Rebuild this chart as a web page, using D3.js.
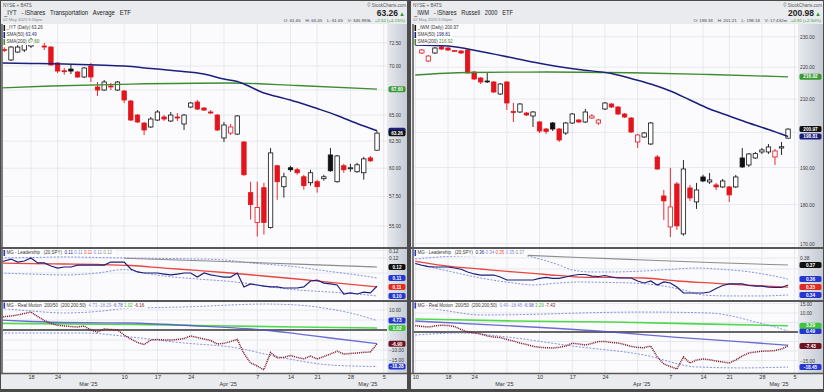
<!DOCTYPE html>
<html lang="en">
<head>
<meta charset="UTF-8">
<title>IYT / IWM daily</title>
<script src="https://cdn.jsdelivr.net/npm/d3@7/dist/d3.min.js"></script>
<style>
  body { margin: 0; background: #4a4a4a; }
  svg { display: block; font-family: "Liberation Sans", Arial, sans-serif; }
</style>
</head>
<body>
<svg id="chart" width="824" height="392"></svg>
<script>
// trading days on the axis (Feb 17 and Apr 18 were holidays)
const dates = ['Feb 10','Feb 11','Feb 12','Feb 13','Feb 14','Feb 18','Feb 19','Feb 20','Feb 21',
  'Feb 24','Feb 25','Feb 26','Feb 27','Feb 28','Mar 3','Mar 4','Mar 5','Mar 6','Mar 7',
  'Mar 10','Mar 11','Mar 12','Mar 13','Mar 14','Mar 17','Mar 18','Mar 19','Mar 20','Mar 21',
  'Mar 24','Mar 25','Mar 26','Mar 27','Mar 28','Mar 31','Apr 1','Apr 2','Apr 3','Apr 4',
  'Apr 7','Apr 8','Apr 9','Apr 10','Apr 11','Apr 14','Apr 15','Apr 16','Apr 17',
  'Apr 21','Apr 22','Apr 23','Apr 24','Apr 25','Apr 28','Apr 29','Apr 30','May 1','May 2','May 5']
const candleDates = dates.slice(1, 58)   // Feb 11 .. May 2

const weekStarts = ['Feb 10','Feb 18','Feb 24','Mar 3','Mar 10','Mar 17','Mar 24','Mar 31','Apr 7','Apr 14','Apr 21','Apr 28','May 5']
const dayTicks = ['Feb 10','Feb 18','Feb 24','Mar 10','Mar 17','Mar 24','Apr 7','Apr 14','Apr 21','Apr 28','May 5']
const monthTicks = ['Mar 3','Apr 1','May 1']
const monthNames = ["Mar '25","Apr '25","May '25"]

// ---------- IYT ----------
const iytPrevClose = 71.9
const iytOpen = [71.75,70.64,71.49,71.71,72.14,72.80,72.14,72.03,70.32,69.50,69.68,69.37,68.85,70.00,67.82,67.51,67.92,67.51,67.41,66.40,65.01,64.23,63.85,64.52,64.82,64.43,64.82,64.14,65.80,66.30,65.70,65.31,65.01,62.80,63.27,63.17,62.42,57.83,55.28,58.26,54.86,60.22,58.35,60.04,59.86,59.23,58.70,58.79,59.06,61.21,58.79,60.22,59.95,59.68,59.59,60.94,61.65]
const iytHigh = [72.00,72.14,72.25,72.58,73.02,72.90,72.47,72.14,70.42,69.80,70.21,69.47,69.89,70.32,68.33,68.54,68.23,68.43,67.51,66.50,65.11,64.33,64.82,65.50,65.01,65.31,65.21,65.11,66.30,66.50,65.80,65.50,65.11,64.33,64.14,65.01,62.51,58.79,58.79,58.70,61.86,60.31,59.59,60.22,60.04,59.41,59.86,58.97,59.41,61.86,61.21,60.40,60.40,60.49,61.03,61.12,63.45]
const iytLow = [71.50,70.53,71.39,71.49,71.93,72.36,71.71,70.05,69.26,69.10,69.16,68.74,68.74,68.33,66.90,67.41,67.51,67.41,66.20,64.43,64.23,63.08,63.75,64.43,64.43,64.33,64.43,63.56,65.70,65.50,65.41,65.11,63.46,62.42,63.08,63.08,59.32,55.53,54.13,54.29,54.78,57.22,57.40,59.68,59.41,58.09,58.44,57.83,58.88,59.68,58.70,59.59,59.68,59.59,58.97,60.58,61.65]
const iytClose = [71.68,72.03,72.03,72.36,72.80,72.47,72.03,70.11,69.47,69.40,69.47,68.85,69.79,68.85,67.51,68.33,67.82,68.33,66.50,64.52,64.33,63.56,64.62,65.31,64.62,65.01,64.72,65.01,66.20,65.60,65.50,65.21,63.56,64.04,63.85,64.92,59.41,56.79,56.54,55.28,61.40,58.79,59.23,59.86,59.59,58.44,59.59,58.35,59.23,59.77,61.12,59.86,60.04,60.31,60.85,60.67,63.26]
const iytSma50 = [['Feb 10',70.32],['Feb 18',70.27],['Feb 25',70.21],['Mar 4',70.11],['Mar 10',70.00],['Mar 14',69.74],['Mar 20',69.47],['Mar 26',69.16],['Mar 31',68.64],['Apr 2',68.38],['Apr 4',67.82],['Apr 8',67.20],['Apr 10',66.85],['Apr 15',66.30],['Apr 21',65.65],['Apr 24',64.97],['Apr 29',64.19],['May 2',63.49]]
const iytSma200 = [['Feb 10',67.72],['Feb 21',67.92],['Mar 11',68.12],['Apr 1',68.23],['Apr 15',67.97],['May 2',67.60]]
const iytPriceTicks = [72.5,70,67.5,65,62.5,60,57.5,55]

const iytLead = [0.1167,0.1180,0.1193,0.1173,0.1180,0.1200,0.1167,0.1167,0.1147,0.1133,0.1140,0.1140,0.1153,0.1153,0.1153,0.1153,0.1153,0.1173,0.1173,0.1173,0.1127,0.1107,0.1100,0.1100,0.1100,0.1093,0.1087,0.1093,0.1100,0.1100,0.1073,0.1100,0.1087,0.1080,0.1073,0.1073,0.1100,0.1007,0.1027,0.1020,0.1013,0.1007,0.1007,0.1000,0.1000,0.1000,0.1007,0.1047,0.1053,0.1033,0.1027,0.1020,0.0960,0.0967,0.0960,0.0973,0.0967,0.1013]
const iytLeadMa = [['Feb 10',0.1167],['Feb 18',0.1163],['Feb 25',0.1160],['Mar 4',0.1157],['Mar 11',0.1150],['Mar 18',0.1133],['Mar 25',0.1117],['Apr 1',0.1100],['Apr 8',0.1080],['Apr 15',0.1060],['Apr 23',0.1037],['May 2',0.1007]]
const iytLeadLong = [['Mar 10',0.1198],['Apr 1',0.1175],['Apr 15',0.1159],['May 2',0.1140]]
const iytLeadUpper = [['Feb 10',0.1200],['Feb 18',0.1203],['Feb 25',0.1207],['Mar 4',0.1203],['Mar 11',0.1200],['Mar 18',0.1197],['Mar 25',0.1193],['Mar 28',0.1190],['Apr 1',0.1183],['Apr 4',0.1167],['Apr 9',0.1157],['Apr 15',0.1140],['Apr 23',0.1110],['Apr 29',0.1087],['May 2',0.1067]]
const iytLeadLower = [['Feb 10',0.1100],['Feb 18',0.1093],['Feb 25',0.1087],['Mar 4',0.1100],['Mar 10',0.1123],['Mar 13',0.1100],['Mar 18',0.1080],['Mar 25',0.1060],['Apr 1',0.1043],['Apr 4',0.1027],['Apr 9',0.1007],['Apr 15',0.0987],['Apr 23',0.0973],['Apr 29',0.0960],['May 2',0.0947]]
const iytLeadTicks = [0.125,0.12,0.11]
const iytLeadLegend = ['0.11','0.11','0.11','0.11','0.12']
const iytLeadTags = ['0.12','0.11','0.11','0.10']   // long, upper, average, lower

const iytRm = [6.0,6.65,7.0,7.5,8.25,9.0,6.75,4.75,3.25,2.4,2.0,1.75,1.5,2.0,0.0,-1.0,0.5,0.25,0.0,-2.5,-4.5,-6.25,-7.25,-5.0,-4.75,-5.0,-5.0,-4.75,-4.25,-3.0,-3.75,-4.5,-5.25,-7.0,-6.65,-5.75,-4.75,-11.75,-16.5,-18.0,-19.9,-11.25,-14.0,-13.65,-12.75,-13.75,-14.4,-13.0,-14.5,-13.25,-12.0,-10.6,-12.0,-11.75,-11.5,-11.15,-11.0,-6.9]
const iytRmUpper = [['Feb 10',11.0],['Feb 18',9.5],['Feb 25',8.5],['Mar 4',9.25],['Mar 11',11.0],['Mar 18',11.25],['Mar 25',11.75],['Apr 1',12.5],['Apr 8',13.0],['Apr 15',12.5],['Apr 22',11.0],['Apr 28',8.5],['May 2',4.73]]
const iytRmLower = [['Feb 10',-1.5],['Feb 18',-1.5],['Feb 28',-1.5],['Mar 11',-3.5],['Mar 21',-6.5],['Apr 1',-8.5],['Apr 11',-14.0],['Apr 23',-17.5],['May 2',-18.28]]
const iytRmGreen = [['Feb 10',3.35],['Mar 11',2.75],['Apr 1',2.0],['Apr 15',1.5],['May 2',1.02]]
const iytRmBlue = [['Feb 10',5.0],['Feb 18',4.25],['Feb 25',3.75],['Mar 11',3.5],['Mar 25',2.0],['Apr 1',1.15],['Apr 8',0.0],['Apr 15',-1.9],['Apr 23',-4.0],['May 2',-6.78]]
const iytRmTicks = [10,5,0,-5,-10,-15]
const iytRmLegend = ['4.73','-18.29','-6.78','1.02','-6.16']

// ---------- IWM ----------
const iwmPrevClose = 226.0
const iwmOpen = [224.59,221.98,224.59,226.56,226.23,225.10,225.24,225.57,218.44,216.54,215.59,215.28,211.54,215.28,206.20,206.05,205.75,204.85,203.07,201.00,202.77,201.00,199.83,202.77,203.66,203.07,204.25,202.77,206.96,208.47,207.56,205.45,204.25,197.22,198.67,196.65,192.95,182.28,174.22,185.50,172.45,184.42,180.69,187.40,186.04,185.23,184.69,184.69,184.69,192.67,190.71,192.67,194.37,194.37,192.95,195.50,198.33]
const iwmHigh = [225.90,223.93,226.56,226.89,226.56,225.57,225.57,225.90,218.76,216.86,218.12,215.59,214.96,215.59,208.78,208.78,206.05,206.35,203.36,201.29,203.07,201.29,203.07,205.75,203.96,206.96,205.45,203.96,209.08,208.78,207.87,205.75,204.55,199.54,200.12,203.07,193.52,183.88,189.88,186.04,192.11,185.23,185.77,188.00,188.50,185.77,186.85,184.96,187.95,195.51,194.08,194.37,195.51,196.65,195.22,197.22,201.21]
const iwmLow = [224.26,221.65,224.26,225.57,225.24,224.90,224.26,218.00,215.91,214.65,214.96,211.85,211.23,206.65,203.07,205.75,204.85,201.59,199.83,199.54,200.41,197.22,199.25,202.47,202.77,202.77,203.96,202.18,206.65,207.26,205.15,204.25,199.83,195.51,198.38,196.36,189.33,176.01,171.68,173.46,172.00,180.96,178.86,186.00,185.50,183.88,184.42,180.69,184.42,189.88,190.16,192.39,193.80,193.80,190.71,193.52,198.18]
const iwmClose = [225.57,223.60,226.23,225.90,225.57,225.40,224.59,218.12,216.22,215.28,215.40,212.16,214.65,208.78,205.90,208.47,205.15,206.05,200.41,200.30,201.00,197.80,202.77,205.45,203.07,206.05,204.85,203.66,208.78,207.56,205.45,204.55,200.12,199.25,199.83,202.77,189.60,180.96,179.38,174.48,189.60,181.75,183.88,186.31,186.58,184.69,186.31,182.55,187.40,190.16,193.80,193.90,194.94,195.79,194.65,195.85,200.97]
const iwmSma50 = [['Feb 10',227.22],['Feb 18',226.89],['Feb 25',225.08],['Mar 4',222.95],['Mar 11',220.85],['Mar 18',219.24],['Mar 25',217.97],['Mar 28',216.38],['Apr 2',214.65],['Apr 7',212.47],['Apr 10',209.69],['Apr 15',206.96],['Apr 21',204.85],['Apr 24',202.77],['Apr 29',200.85],['May 2',198.81]]
const iwmSma200 = [['Feb 10',217.49],['Feb 21',218.28],['Mar 11',218.44],['Apr 1',218.12],['Apr 15',217.65],['May 2',216.92]]
const iwmPriceTicks = [230,220,210,200,190,180,170]

const iwmLead = [0.3750,0.3734,0.3721,0.3718,0.3718,0.3718,0.3709,0.3698,0.3673,0.3655,0.3645,0.3645,0.3645,0.3627,0.3600,0.3600,0.3600,0.3600,0.3600,0.3614,0.3623,0.3614,0.3614,0.3627,0.3641,0.3650,0.3650,0.3636,0.3632,0.3641,0.3627,0.3618,0.3618,0.3618,0.3591,0.3573,0.3591,0.3555,0.3582,0.3573,0.3536,0.3482,0.3482,0.3482,0.3482,0.3491,0.3523,0.3550,0.3564,0.3564,0.3564,0.3550,0.3545,0.3545,0.3536,0.3532,0.3532,0.3555]
const iwmLeadMa = [['Feb 10',0.3770],['Feb 18',0.3727],['Feb 25',0.3700],['Mar 4',0.3673],['Mar 11',0.3650],['Mar 18',0.3627],['Mar 25',0.3623],['Apr 1',0.3618],['Apr 8',0.3591],['Apr 15',0.3573],['Apr 23',0.3555],['May 2',0.3536]]
const iwmLeadLong = [['Mar 5',0.3827],['Mar 18',0.3805],['Apr 1',0.3782],['Apr 15',0.3759],['May 2',0.3736]]
const iwmLeadUpper = [['Feb 10',0.3791],['Feb 18',0.3814],['Feb 25',0.3823],['Mar 5',0.3827],['Mar 10',0.3791],['Mar 13',0.3736],['Mar 17',0.3691],['Mar 20',0.3673],['Mar 25',0.3673],['Apr 1',0.3682],['Apr 8',0.3700],['Apr 11',0.3709],['Apr 17',0.3696],['Apr 23',0.3682],['Apr 29',0.3646],['May 2',0.3609]]
const iwmLeadLower = [['Feb 10',0.3750],['Feb 18',0.3682],['Feb 25',0.3618],['Mar 4',0.3573],['Mar 7',0.3555],['Mar 13',0.3573],['Mar 18',0.3582],['Mar 25',0.3577],['Mar 28',0.3573],['Apr 4',0.3545],['Apr 9',0.3509],['Apr 14',0.3464],['Apr 21',0.3455],['Apr 28',0.3455],['May 2',0.3464]]
const iwmLeadTicks = [0.38,0.37]
const iwmLeadLegend = ['0.36','0.34','0.35','0.35','0.37']
const iwmLeadTags = ['0.37','0.36','0.35','0.34']

const iwmRm = [3.37,2.95,2.63,3.16,3.58,3.42,2.89,1.32,0.0,-0.37,-1.05,-2.1,-2.63,-2.89,-3.95,-4.74,-5.79,-6.58,-7.53,-8.05,-8.26,-8.42,-8.05,-7.37,-5.89,-6.32,-6.84,-6.05,-5.0,-5.0,-5.53,-5.79,-6.58,-7.53,-8.16,-8.26,-7.37,-13.16,-16.84,-18.16,-19.47,-13.16,-16.32,-14.74,-14.21,-14.58,-15.26,-15.79,-16.32,-14.74,-12.63,-11.05,-10.53,-10.11,-10.0,-9.74,-8.95,-7.43]
const iwmRmUpper = [['Feb 10',13.7],['Feb 12',12.6],['Feb 18',11.05],['Feb 25',8.95],['Mar 11',9.47],['Mar 18',10.0],['Apr 1',10.5],['Apr 15',10.0],['Apr 21',8.7],['Apr 25',5.26],['Apr 30',2.63],['May 2',0.49]]
const iwmRmLower = [['Feb 10',-1.58],['Feb 20',-0.53],['Mar 3',-2.63],['Mar 17',-7.37],['Apr 1',-12.1],['Apr 11',-18.4],['Apr 23',-18.9],['May 2',-18.45]]
const iwmRmGreen = [['Feb 10',6.84],['Mar 4',5.8],['Mar 25',5.26],['Apr 15',4.16],['May 2',3.29]]
const iwmRmBlue = [['Feb 10',5.79],['Mar 4',3.16],['Mar 25',0.0],['Apr 8',-2.8],['Apr 23',-5.2],['May 2',-6.98]]
const iwmRmTicks = [15,10,5,0,-5,-10,-15]
const iwmRmLegend = ['0.49','-18.45','-6.98','3.29','-7.43']

// ---------- colours ----------
const NAVY = '#1c1f7c', GREEN = '#3f8b30', RED = '#e3141c', BLACK = '#111'
const BAND = '#7c83de', LEAD_RED = '#e8463e', LONG_GRAY = '#8c8c8c'
const MAROON = '#7a1424', RM_BLUE = '#5252c8', RM_GREEN = '#4fd94f', TAG_BLUE = '#2636d0'

const PANES = [[24, 247], [249, 300], [302, 373]]
const AXIS_BOT = 389

const svg = d3.select('#chart')
const defs = svg.append('defs')
const grad = defs.append('linearGradient').attr('id', 'stripFill')
grad.append('stop').attr('offset', '0%').attr('stop-color', '#e7eaef')
grad.append('stop').attr('offset', '100%').attr('stop-color', '#c5cad4')

const last = a => a[a.length - 1]

// value tag on the right strip; text left out when a later tag covers it
function tag(g, p, yv, txt, fill, withText) {
   const w = p.right - p.plotR - 3
   g.append('rect').attr('x', p.plotR + 1.5).attr('y', yv - 3).attr('width', w).attr('height', 6)
      .attr('rx', 1.6).attr('fill', fill)
   if (!withText) return
   g.append('text').attr('x', p.plotR + 1.5 + w / 2).attr('y', yv + 1.7).attr('text-anchor', 'middle')
      .attr('font-size', 4.7).attr('font-weight', 'bold').attr('fill', '#fff').text(txt)
}

function legendRow(g, x0, y0, parts, marker) {
   const row = g.append('g')
   const bg = row.append('rect')
   const t = row.append('text').attr('x', x0 + 3).attr('y', y0 + 4.4).attr('font-size', 4.5)
      .style('white-space', 'pre')
   parts.forEach(pt => t.append('tspan').attr('fill', pt[1]).text(pt[0]))
   const w = t.node().getComputedTextLength()
   bg.attr('x', x0).attr('y', y0).attr('width', w + 5).attr('height', 6)
      .attr('fill', '#fff').attr('fill-opacity', 0.92)
   row.append('rect').attr('x', x0).attr('y', y0).attr('width', 1.6).attr('height', 6).attr('fill', marker)
}

function drawPanel(p) {
   const g = svg.append('g')
   const x = d3.scalePoint().domain(dates).range(p.xr)
   const inPlot = d => x(d) >= p.plotL && x(d) <= p.plotR
   const daily = arr => arr.map((v, k) => [dates[k], v])

   g.append('rect').attr('x', p.left).attr('y', 1).attr('width', p.right - p.left)
      .attr('height', AXIS_BOT - 1).attr('fill', '#e9ebee')

   const yMain = d3.scaleLog().domain(p.priceDomain).range(p.priceRange)
   const yLead = d3.scaleLinear().domain(p.leadDomain).range(p.leadRange)
   const yRm = d3.scaleLinear().domain([-10, 10]).range(p.rmRange)
   const scales = [yMain, yLead, yRm]
   const ticks = [p.priceTicks, p.leadTicks, p.rmTicks]
   const fmts = [d3.format('.2f'), v => (Math.floor(v * 100 + 1e-6) / 100).toFixed(2), d3.format('.2f')]

   // tags per pane: [y, text, colour]
   const tags = [
      [[yMain(last(p.sma200)[1]), last(p.sma200)[1].toFixed(2), '#3a9a34'],
       [yMain(last(p.sma50)[1]), last(p.sma50)[1].toFixed(2), NAVY],
       [yMain(last(p.close)), last(p.close).toFixed(2), BLACK]],
      [[yLead(last(p.leadLong)[1]), p.leadTags[0], BLACK],
       [yLead(last(p.leadUp)[1]), p.leadTags[1], TAG_BLUE],
       [yLead(last(p.leadMa)[1]), p.leadTags[2], '#e02a24'],
       [yLead(last(p.leadDn)[1]), p.leadTags[3], TAG_BLUE]],
      [[yRm(last(p.rmUp)[1]), last(p.rmUp)[1].toFixed(2), TAG_BLUE],
       [yRm(last(p.rmGreen)[1]), last(p.rmGreen)[1].toFixed(2), '#3fc43f'],
       [yRm(last(p.rm)), last(p.rm).toFixed(2), '#6e1222'],
       [yRm(last(p.rmDn)[1]), last(p.rmDn)[1].toFixed(2), TAG_BLUE]]
   ]

   const layers = PANES.map(([top, bot], k) => {
      const id = `clip-${p.sym}-${k}`
      defs.append('clipPath').attr('id', id).append('rect')
         .attr('x', p.plotL).attr('y', top).attr('width', p.plotR - p.plotL).attr('height', bot - top)
      g.append('rect').attr('x', p.plotL).attr('y', top).attr('width', p.plotR - p.plotL)
         .attr('height', bot - top).attr('fill', '#fbfbfd')
      g.append('rect').attr('x', p.plotR).attr('y', top).attr('width', p.right - p.plotR)
         .attr('height', bot - top).attr('fill', 'url(#stripFill)')

      const grid = g.append('g').attr('stroke', '#e1e4e9').attr('stroke-width', 0.8)
      grid.append('g').selectAll('line').data(weekStarts.filter(inPlot)).join('line')
         .attr('x1', d => x(d)).attr('x2', d => x(d)).attr('y1', top).attr('y2', bot)
      grid.append('g').selectAll('line').data(ticks[k]).join('line')
         .attr('x1', p.plotL).attr('x2', p.plotR).attr('y1', d => scales[k](d)).attr('y2', d => scales[k](d))

      // tick labels hidden under a value tag are left out
      const shown = ticks[k].filter(t => tags[k].every(s => Math.abs(scales[k](t) - s[0]) > 5.2))
      const ax = g.append('g').attr('transform', `translate(${p.plotR},0)`)
         .call(d3.axisRight(scales[k]).tickValues(shown).tickFormat(fmts[k]).tickSize(0).tickPadding(2))
      ax.select('.domain').remove()
      ax.attr('font-size', 4.8).attr('font-family', null)
      ax.selectAll('text').attr('fill', '#3a3a3a')
      return g.append('g').attr('clip-path', `url(#${id})`)
   })

   // ----- price pane
   const m = layers[0]
   const rows = p.open.map((o, k) => ({ d: candleDates[k], o, h: p.high[k], l: p.low[k], c: p.close[k],
      pc: k ? p.close[k - 1] : p.prevClose }))
   const col = r => r.c >= r.pc ? BLACK : RED
   const bw = 4.4
   m.append('g').selectAll('line').data(rows).join('line')
      .attr('x1', r => x(r.d)).attr('x2', r => x(r.d))
      .attr('y1', r => yMain(r.h)).attr('y2', r => yMain(r.l))
      .attr('stroke', col).attr('stroke-width', 0.9)
   m.append('g').selectAll('rect').data(rows).join('rect')
      .attr('x', r => x(r.d) - bw / 2).attr('width', bw)
      .attr('y', r => yMain(Math.max(r.o, r.c)))
      .attr('height', r => Math.max(0.9, Math.abs(yMain(r.o) - yMain(r.c))))
      .attr('fill', r => r.c < r.o ? col(r) : '#fff')
      .attr('stroke', col).attr('stroke-width', 0.8)

   const priceLine = d3.line().x(d => x(d[0])).y(d => yMain(d[1])).curve(d3.curveMonotoneX)
   m.append('path').attr('d', priceLine(p.sma200)).attr('fill', 'none').attr('stroke', GREEN).attr('stroke-width', 1.3)
   m.append('path').attr('d', priceLine(p.sma50)).attr('fill', 'none').attr('stroke', NAVY).attr('stroke-width', 1.5)

   legendRow(g, p.plotL + 1, 25, [[`${p.sym} (Daily) `, '#333'], [last(p.close).toFixed(2), '#333']], BLACK)
   legendRow(g, p.plotL + 1, 32, [['SMA(50) ', '#333'], [last(p.sma50)[1].toFixed(2), NAVY]], NAVY)
   legendRow(g, p.plotL + 1, 39, [['SMA(200) ', '#333'], [last(p.sma200)[1].toFixed(2), GREEN]], GREEN)

   // ----- leadership pane
   const l = layers[1]
   const leadSmooth = d3.line().x(d => x(d[0])).y(d => yLead(d[1])).curve(d3.curveMonotoneX)
   const leadRaw = d3.line().x(d => x(d[0])).y(d => yLead(d[1]))
   l.append('path').attr('d', leadSmooth(p.leadUp)).attr('fill', 'none').attr('stroke', BAND)
      .attr('stroke-width', 0.9).attr('stroke-dasharray', '2,1.5')
   l.append('path').attr('d', leadSmooth(p.leadDn)).attr('fill', 'none').attr('stroke', BAND)
      .attr('stroke-width', 0.9).attr('stroke-dasharray', '2,1.5')
   l.append('path').attr('d', leadSmooth(p.leadLong)).attr('fill', 'none').attr('stroke', LONG_GRAY).attr('stroke-width', 1.1)
   l.append('path').attr('d', leadSmooth(p.leadMa)).attr('fill', 'none').attr('stroke', LEAD_RED).attr('stroke-width', 1.3)
   l.append('path').attr('d', leadRaw(daily(p.lead))).attr('fill', 'none').attr('stroke', NAVY).attr('stroke-width', 1.2)

   const lc = [NAVY, BAND, LEAD_RED, BAND, LONG_GRAY]
   legendRow(g, p.plotL + 1, 250, [['MG - Leadership   (20,SPY)  ', '#333']]
      .concat(p.leadLegend.map((t, k) => [t + ' ', lc[k]])), TAG_BLUE)

   // ----- real motion pane
   const r = layers[2]
   const rmSmooth = d3.line().x(d => x(d[0])).y(d => yRm(d[1])).curve(d3.curveMonotoneX)
   const rmRaw = d3.line().x(d => x(d[0])).y(d => yRm(d[1]))
   r.append('line').attr('x1', p.plotL).attr('x2', p.plotR).attr('y1', yRm(0)).attr('y2', yRm(0))
      .attr('stroke', '#666').attr('stroke-width', 2.2)
   r.append('path').attr('d', rmSmooth(p.rmGreen)).attr('fill', 'none').attr('stroke', RM_GREEN).attr('stroke-width', 1.6)
   r.append('path').attr('d', rmSmooth(p.rmBlue)).attr('fill', 'none').attr('stroke', RM_BLUE)
      .attr('stroke-width', 1.3).attr('stroke-opacity', 0.85)
   r.append('path').attr('d', rmSmooth(p.rmUp)).attr('fill', 'none').attr('stroke', BAND)
      .attr('stroke-width', 0.9).attr('stroke-dasharray', '2,1.5')
   r.append('path').attr('d', rmSmooth(p.rmDn)).attr('fill', 'none').attr('stroke', BAND)
      .attr('stroke-width', 0.9).attr('stroke-dasharray', '2,1.5')
   r.append('path').attr('d', rmRaw(daily(p.rm))).attr('fill', 'none').attr('stroke', MAROON)
      .attr('stroke-width', 1.5).attr('stroke-dasharray', '1,0.9')

   const rc = [BAND, BAND, RM_BLUE, '#35b035', MAROON]
   legendRow(g, p.plotL + 1, 302.5, [['MG - Real Motion  200/50  (200,200,50)  ', '#333']]
      .concat(p.rmLegend.map((t, k) => [t + ' ', rc[k]])), TAG_BLUE)

   // ----- value tags
   tags.forEach(list => list.forEach((s, j) => {
      const covered = list.some((o, q) => q > j && Math.abs(o[0] - s[0]) < 4)
      tag(g, p, s[0], s[1], s[2], !covered)
   }))

   // ----- pane separators and edges
   const sep = g.append('g').attr('stroke', '#575757')
   sep.append('line').attr('x1', p.left).attr('x2', p.right).attr('y1', 248).attr('y2', 248).attr('stroke-width', 2)
   sep.append('line').attr('x1', p.left).attr('x2', p.right).attr('y1', 301).attr('y2', 301).attr('stroke-width', 2)
   sep.append('line').attr('x1', p.left).attr('x2', p.right).attr('y1', 373.5).attr('y2', 373.5).attr('stroke-width', 1.5)
   sep.append('line').attr('x1', p.plotL - 0.5).attr('x2', p.plotL - 0.5).attr('y1', 24).attr('y2', 373).attr('stroke-width', 1.5)

   // ----- date axis
   const xa = g.append('g').attr('transform', `translate(0,${PANES[2][1]})`)
      .call(d3.axisBottom(x).tickValues(dayTicks.filter(inPlot)).tickSize(0).tickPadding(2.5)
         .tickFormat(d => d.split(' ')[1]))
   xa.select('.domain').remove()
   xa.attr('font-size', 5.5).attr('font-family', null)
   xa.selectAll('text').attr('fill', '#333')
   const xm = g.append('g').attr('transform', `translate(0,${PANES[2][1]})`)
      .call(d3.axisBottom(x).tickValues(monthTicks).tickSize(0).tickPadding(9.5)
         .tickFormat(d => monthNames[monthTicks.indexOf(d)]))
   xm.select('.domain').remove()
   xm.attr('font-size', 5.5).attr('font-family', null)
   xm.selectAll('text').attr('fill', '#333').attr('dx', -3)

   // ----- header
   const h = g.append('g')
   h.append('text').attr('x', p.left + 2).attr('y', 6.5).attr('font-size', 4.5).attr('fill', '#555').text(p.exch)
   h.append('text').attr('x', p.left + 3).attr('y', 15).attr('font-size', 8).attr('fill', '#222')
      .style('white-space', 'pre').attr('textLength', p.titleW).attr('lengthAdjust', 'spacingAndGlyphs').text(p.title)
   h.append('text').attr('x', p.left + 2).attr('y', 21).attr('font-size', 4.2).attr('fill', '#888').text(p.stamp)
   h.append('text').attr('x', p.right - 1).attr('y', 6.5).attr('text-anchor', 'end').attr('font-size', 4.5)
      .attr('fill', '#555').text('© StockCharts.com')
   h.append('text').attr('x', p.right - 9).attr('y', 16).attr('text-anchor', 'end').attr('font-size', 8.5)
      .attr('font-weight', 'bold').attr('fill', '#222').text(p.lastText)
   h.append('text').attr('x', p.right - 2).attr('y', 15.5).attr('text-anchor', 'end').attr('font-size', 6)
      .attr('fill', '#2f9a2f').text('▲')
   const o = h.append('text').attr('x', p.right - 2).attr('y', 21.5).attr('text-anchor', 'end')
      .attr('font-size', 4.4).style('white-space', 'pre')
   o.append('tspan').attr('fill', '#444').text(p.ohlc + '   ')
   o.append('tspan').attr('fill', '#2f9a2f').text(p.chg)
}

drawPanel({
   left: 1, right: 407, plotL: 2.5, plotR: 387, xr: [-2.3, 383.7],
   sym: '_IYT', exch: 'NYSE + BATS', title: '_IYT   - iShares   Transportation   Average   ETF', titleW: 127,
   stamp: '02 May 2025 5:56pm', lastText: '63.26',
   ohlc: 'O: 61.65    H: 63.45    L: 61.65    V: 345.993k', chg: '+2.52 (+4.15%)',
   open: iytOpen, high: iytHigh, low: iytLow, close: iytClose, prevClose: iytPrevClose,
   sma50: iytSma50, sma200: iytSma200, priceDomain: [55, 70], priceRange: [225.9, 66], priceTicks: iytPriceTicks,
   lead: iytLead, leadMa: iytLeadMa, leadLong: iytLeadLong, leadUp: iytLeadUpper, leadDn: iytLeadLower,
   leadDomain: [0.11, 0.12], leadRange: [273, 258], leadTicks: iytLeadTicks, leadTags: iytLeadTags, leadLegend: iytLeadLegend,
   rm: iytRm, rmUp: iytRmUpper, rmDn: iytRmLower, rmGreen: iytRmGreen, rmBlue: iytRmBlue,
   rmRange: [350, 310], rmTicks: iytRmTicks, rmLegend: iytRmLegend
})

drawPanel({
   left: 411, right: 823, plotL: 413.5, plotR: 798, xr: [415.3, 794.6],
   sym: '_IWM', exch: 'NYSE + BATS', title: '_IWM   - iShares   Russell   2000   ETF', titleW: 99,
   stamp: '02 May 2025 5:56pm', lastText: '200.98',
   ohlc: 'O: 198.33    H: 201.21    L: 198.18    V: 17.432m', chg: '+4.91 (+2.50%)',
   open: iwmOpen, high: iwmHigh, low: iwmLow, close: iwmClose, prevClose: iwmPrevClose,
   sma50: iwmSma50, sma200: iwmSma200, priceDomain: [170, 210], priceRange: [243.7, 99], priceTicks: iwmPriceTicks,
   lead: iwmLead, leadMa: iwmLeadMa, leadLong: iwmLeadLong, leadUp: iwmLeadUpper, leadDn: iwmLeadLower,
   leadDomain: [0.37, 0.38], leadRange: [269, 258], leadTicks: iwmLeadTicks, leadTags: iwmLeadTags, leadLegend: iwmLeadLegend,
   rm: iwmRm, rmUp: iwmRmUpper, rmDn: iwmRmLower, rmGreen: iwmRmGreen, rmBlue: iwmRmBlue,
   rmRange: [351, 313], rmTicks: iwmRmTicks, rmLegend: iwmRmLegend
})
</script>
</body>
</html>
